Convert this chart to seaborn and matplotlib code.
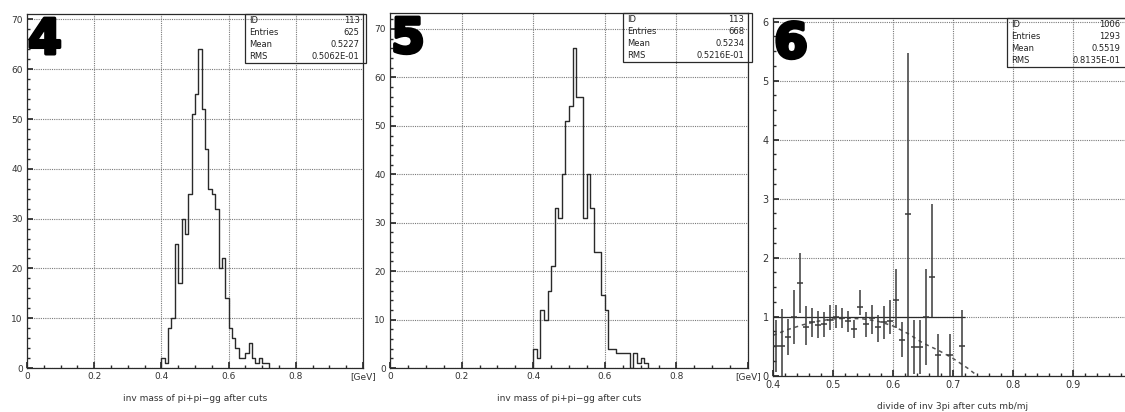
import numpy as np
import pandas as pd
import seaborn as sns
import matplotlib.pyplot as plt
from matplotlib.ticker import MultipleLocator
import matplotlib.patheffects as pe

sns.set_theme(style="white")
plt.rcParams['font.family'] = ['DejaVu Sans']

# ---- data ----
# panels 4 and 5: counts per 0.01 GeV bin, starting at 0.40
bin_lo = [0.40, 0.41, 0.42, 0.43, 0.44, 0.45, 0.46, 0.47, 0.48, 0.49, 0.50,
          0.51, 0.52, 0.53, 0.54, 0.55, 0.56, 0.57, 0.58, 0.59, 0.60, 0.61,
          0.62, 0.63, 0.64, 0.65, 0.66, 0.67, 0.68, 0.69, 0.70, 0.71]
counts_4 = [2, 1, 8, 10, 25, 17, 30, 27, 35, 51, 55, 64, 52, 44, 36, 35,
            32, 20, 22, 14, 8, 6, 4, 2, 2, 3, 5, 2, 1, 2, 1, 1]
counts_5 = [4, 2, 12, 10, 16, 21, 33, 31, 40, 51, 54, 66, 56, 56, 31, 40,
            33, 24, 24, 15, 12, 4, 4, 3, 3, 3, 3, 0, 3, 1, 2, 1]
bin_w = 0.01

stats_labels = ["ID", "Entries", "Mean", "RMS"]
stats_4 = ["113", "625", "0.5227", "0.5062E-01"]
stats_5 = ["113", "668", "0.5234", "0.5216E-01"]
stats_6 = ["1006", "1293", "0.5519", "0.8135E-01"]

# panel 6: ratio points with errors
ratio_x = [0.405, 0.415, 0.425, 0.435, 0.445, 0.455, 0.465, 0.475, 0.485,
           0.495, 0.505, 0.515, 0.525, 0.535, 0.545, 0.555, 0.565, 0.575,
           0.585, 0.595, 0.605, 0.615, 0.625, 0.635, 0.645, 0.655, 0.665,
           0.675, 0.695, 0.715]
ratio_y = [0.50, 0.50, 0.66, 1.00, 1.56, 0.83, 0.90, 0.86, 0.87, 0.94, 1.00,
           0.97, 0.93, 0.78, 1.16, 0.87, 0.97, 0.83, 0.90, 0.93, 1.28, 0.60,
           2.73, 0.48, 0.48, 1.00, 1.67, 0.34, 0.34, 0.50]
err_lo = [0.44, 0.50, 0.31, 0.47, 0.50, 0.32, 0.24, 0.23, 0.21, 0.17, 0.19,
          0.17, 0.19, 0.15, 0.13, 0.21, 0.26, 0.26, 0.28, 0.22, 0.48, 0.29,
          2.73, 0.45, 0.45, 0.83, 0.67, 0.34, 0.34, 0.50]
err_hi = [0.44, 0.62, 0.30, 0.45, 0.52, 0.34, 0.24, 0.24, 0.21, 0.26, 0.20,
          0.17, 0.17, 0.16, 0.29, 0.21, 0.23, 0.20, 0.28, 0.35, 0.52, 0.30,
          2.73, 0.46, 0.46, 0.80, 1.23, 0.37, 0.37, 0.61]

# dashed fit curve in panel 6
fit_x = [0.400, 0.425, 0.450, 0.475, 0.500, 0.525, 0.550, 0.575, 0.600,
         0.625, 0.650, 0.675, 0.700, 0.725, 0.740]
fit_y = [0.68, 0.78, 0.86, 0.92, 0.96, 0.97, 0.96, 0.92, 0.84,
         0.71, 0.55, 0.43, 0.29, 0.12, 0.0]

INK = '#2a2a2a'
GRID = '#7a7a7a'


def paw_axes(ax):
    ax.grid(True, which='major', linestyle=(0, (1, 1)), color=GRID, linewidth=0.8)
    ax.tick_params(axis='both', which='both', direction='in', left=True,
                   bottom=True, labelsize=6.5, labelcolor='#333333',
                   color=INK, pad=3)
    ax.tick_params(which='major', length=4)
    ax.tick_params(which='minor', length=2)
    for s in ax.spines.values():
        s.set_color(INK)
        s.set_linewidth(0.9)
    ax.set_axisbelow(True)


def stats_box(ax, values, val_x=0.99):
    ax.add_patch(plt.Rectangle((0.65, 0.862), 0.36, 0.138, transform=ax.transAxes,
                               fill=False, edgecolor=INK, linewidth=0.9,
                               clip_on=False, zorder=5))
    for i, (lab, val) in enumerate(zip(stats_labels, values)):
        yy = 0.982 - i * 0.034
        ax.text(0.662, yy, lab, transform=ax.transAxes, fontsize=6,
                va='center', ha='left', color='#222222')
        ax.text(val_x, yy, val, transform=ax.transAxes, fontsize=6,
                va='center', ha='right', color='#222222')


def big_number(ax, s):
    ax.text(0.003, 0.995, s, transform=ax.transAxes, fontsize=35,
            fontweight='bold', va='top', ha='left', color='black', zorder=10,
            path_effects=[pe.withStroke(linewidth=2.5, foreground='black')])


fig = plt.figure(figsize=(11.25, 4.12), dpi=100)
ax1 = fig.add_axes([27 / 1125, 44 / 412, 336 / 1125, 354 / 412])
ax2 = fig.add_axes([390 / 1125, 44 / 412, 358 / 1125, 355 / 412])
# the right part of panel 6 runs past the edge of the picture, as in the scan
ax3 = fig.add_axes([773 / 1125, 36.5 / 412, 360 / 1125, 357.5 / 412])

edges = bin_lo + [bin_lo[-1] + bin_w]
for ax, counts, ymax, stats, num in [(ax1, counts_4, 71.1, stats_4, '4'),
                                    (ax2, counts_5, 73.3, stats_5, '5')]:
    df = pd.DataFrame({'mass': np.array(bin_lo) + bin_w / 2, 'n': counts})
    sns.histplot(data=df, x='mass', weights='n', bins=edges, element='step',
                 fill=False, color=INK, linewidth=1.0, ax=ax)
    # close the outline down to zero at both ends, PAW style
    ax.vlines([edges[0], edges[-1]], 0, [counts[0], counts[-1]], color=INK,
              linewidth=1.0)
    ax.set_xlim(0, 1)
    ax.set_ylim(0, ymax)
    ax.xaxis.set_major_locator(MultipleLocator(0.2))
    ax.xaxis.set_minor_locator(MultipleLocator(0.05))
    ax.yaxis.set_major_locator(MultipleLocator(10))
    ax.yaxis.set_minor_locator(MultipleLocator(2))
    ax.set_xticks([0, 0.2, 0.4, 0.6, 0.8, 1.0])
    ax.set_xticklabels(['0', '0.2', '0.4', '0.6', '0.8', '[GeV]'])
    ax.set_ylabel('')
    ax.set_xlabel('inv mass of pi+pi\u2212gg after cuts', fontsize=6.5,
                  color='#333333', labelpad=9)
    paw_axes(ax)
    stats_box(ax, stats)
    big_number(ax, num)

# panel 6
ax3.errorbar(ratio_x, ratio_y, yerr=[err_lo, err_hi], xerr=0.005, fmt='none',
             ecolor='#3a3a3a', elinewidth=1.1, capsize=0, zorder=3)
sns.lineplot(x=fit_x, y=fit_y, ax=ax3, color='#555555', linewidth=1.1,
             linestyle=(0, (2.5, 2.5)), zorder=2)
ax3.hlines(1.0, 0.4, 0.72, color=INK, linewidth=0.9, zorder=2)
ax3.set_xlim(0.4, 1.0)
ax3.set_ylim(0, 6.06)
ax3.xaxis.set_major_locator(MultipleLocator(0.1))
ax3.xaxis.set_minor_locator(MultipleLocator(0.02))
ax3.yaxis.set_major_locator(MultipleLocator(1))
ax3.yaxis.set_minor_locator(MultipleLocator(0.25))
ax3.set_xticks([0.4, 0.5, 0.6, 0.7, 0.8, 0.9])
ax3.set_xticklabels(['0.4', '0.5', '0.6', '0.7', '0.8', '0.9'])
ax3.set_xlabel('divide of inv 3pi after cuts mb/mj', fontsize=6.5,
               color='#333333', labelpad=9)
paw_axes(ax3)
ax3.tick_params(labelsize=7)
# keep the stat values inside the visible picture
stats_box(ax3, stats_6, val_x=0.965)
big_number(ax3, '6')

fig.savefig('out.png', dpi=100, facecolor='white')
